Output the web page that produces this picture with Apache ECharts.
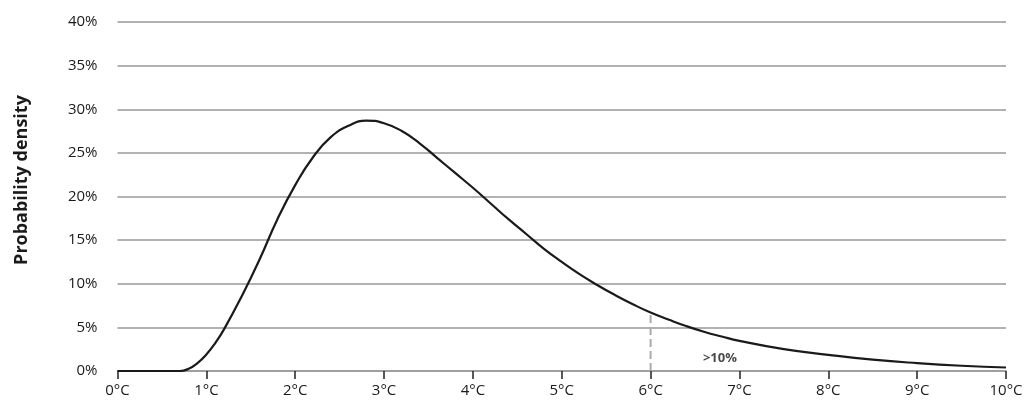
<!DOCTYPE html>
<html>
<head>
<meta charset="utf-8">
<script src="https://cdn.jsdelivr.net/npm/echarts@6/dist/echarts.min.js"></script>
<style>
html,body{margin:0;padding:0;background:#fff;}
#chart{width:1028px;height:409px;}
</style>
</head>
<body>
<div id="chart"></div>
<script>
// Temperature (°C) and probability density (%)
var temps = [0, 0.5, 0.7, 0.8, 0.9, 1.0, 1.1, 1.2, 1.4, 1.6, 1.8, 2.0, 2.2, 2.4, 2.6, 2.8, 3.0, 3.2, 3.4, 3.6, 3.8, 4.0, 4.2, 4.4, 4.6, 4.8, 5.0, 5.2, 5.4, 5.6, 5.8, 6.0, 6.2, 6.4, 6.6, 6.8, 7.0, 7.5, 8.0, 8.5, 9.0, 9.5, 10.0];
var density = [0, 0, 0, 0.25, 0.9, 1.9, 3.2, 4.8, 8.6, 12.8, 17.4, 21.3, 24.5, 26.8, 28.1, 28.7, 28.4, 27.5, 26.1, 24.4, 22.7, 21.0, 19.2, 17.4, 15.7, 14.0, 12.5, 11.1, 9.85, 8.7, 7.65, 6.7, 5.9, 5.15, 4.5, 3.95, 3.45, 2.5, 1.85, 1.3, 0.9, 0.6, 0.4];
// Threshold marker
var thresholdX = [6, 6];
var thresholdY = [0, 6.7];
var annotationText = '>10%';
var annotationPos = [6.78, 1.5];
var yTitle = 'Probability density';

var FONT = "'Liberation Sans Narrow', 'Open Sans', 'Noto Sans', sans-serif";
var chart = echarts.init(document.getElementById('chart'), null, {renderer: 'canvas'});
chart.setOption({
  animation: false,
  backgroundColor: '#fff',
  grid: {left: 117.5, right: 22, top: 22, bottom: 38, containLabel: false},
  xAxis: {
    type: 'value', min: 0, max: 10, interval: 1,
    axisLine: {show: true, lineStyle: {color: '#999', width: 1.5}},
    axisTick: {show: true, length: 8, lineStyle: {color: '#222', width: 1.5}},
    axisLabel: {margin: 12, fontFamily: FONT, fontSize: 15, color: '#1a1a1a', formatter: function(v){return v + '°C';}},
    splitLine: {show: false}
  },
  yAxis: {
    type: 'value', min: 0, max: 40, interval: 5,
    axisLine: {show: false}, axisTick: {show: false},
    axisLabel: {margin: 20, fontFamily: FONT, fontSize: 15, color: '#1a1a1a', formatter: function(v){return v + '%';}},
    splitLine: {show: true, lineStyle: {color: '#999', width: 1.5}}
  },
  graphic: [{
    type: 'text', x: 22, y: 180, rotation: Math.PI / 2,
    style: {text: yTitle, font: "bold 18px " + FONT, fill: '#1a1a1a', align: 'center', verticalAlign: 'middle'}
  }],
  series: [
    {
      type: 'line', smooth: 0.5, symbol: 'none',
      data: temps.map(function(t, i){return [t, density[i]];}),
      lineStyle: {color: '#1a1a1a', width: 2.2},
      z: 3
    },
    {
      type: 'line', symbol: 'none',
      data: thresholdX.map(function(t, i){return [t, thresholdY[i]];}),
      lineStyle: {color: '#aaa', width: 2, type: [8, 4]},
      z: 2
    },
    {
      type: 'scatter', symbolSize: 0,
      data: [annotationPos],
      label: {show: true, position: 'inside', formatter: annotationText, fontFamily: FONT, fontWeight: 'bold', fontSize: 13, color: '#1a1a1a'},
      z: 4
    }
  ]
});
</script>
</body>
</html>
